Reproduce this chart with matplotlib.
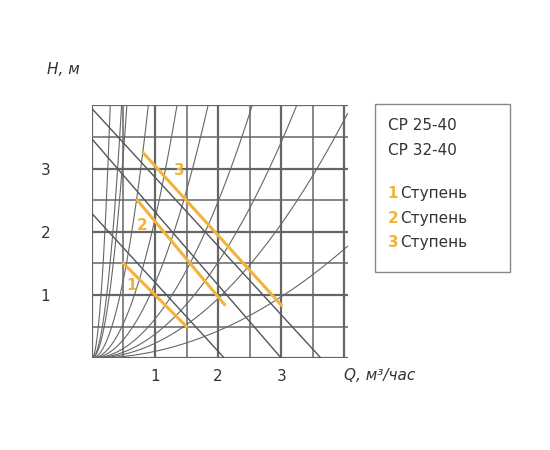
import numpy as np
import matplotlib
matplotlib.use("Agg")
import matplotlib.pyplot as plt

ticks = [1, 2, 3]
tick_labels = ["1", "2", "3"]
# system curves H = k*Q^2
k_values = [47, 18, 13, 5.0, 2.2, 1.18, 0.62, 0.38, 0.236, 0.108]
# straight pump lines (other model): (H at Q=0, Q at H=0)
black_lines = [(2.29, 2.1), (3.47, 3.0), (3.95, 3.63)]
# orange step lines: (Q1, H1, Q2, H2)
steps = ["1", "2", "3"]
step_lines = [(0.5, 1.5, 1.5, 0.5), (0.72, 2.5, 2.1, 0.85), (0.82, 3.24, 3.0, 0.84)]
step_label_pos = [(0.63, 1.15), (0.8, 2.1), (1.38, 2.97)]
legend_models = ["CP 25-40", "CP 32-40"]
orange = "#f0b43c"

fig = plt.figure(figsize=(5.5, 4.5), dpi=100)
ax = fig.add_axes([0.167, 0.204, 0.465, 0.562])
ax.set_xlim(0, 4.05)
ax.set_ylim(0, 4.0)
for v in np.arange(0, 4.01, 0.5):
    lw = 1.6 if v == int(v) else 1.1
    ax.axvline(v, color="#666666", lw=lw, zorder=1)
    ax.axhline(v, color="#666666", lw=lw, zorder=1)
q = np.linspace(0, 4.05, 400)
for k in k_values:
    ax.plot(q, k * q**2, color="#666666", lw=0.8, zorder=2)
for h0, q0 in black_lines:
    ax.plot([0, q0], [h0, 0], color="#555555", lw=1.0, zorder=2)
for (q1, h1, q2, h2), s, (lx, ly) in zip(step_lines, steps, step_label_pos):
    ax.plot([q1, q2], [h1, h2], color=orange, lw=2.2, zorder=3)
    ax.text(lx, ly, s, color=orange, fontsize=11, fontweight="bold",
            ha="center", va="center", zorder=4)
for sp in ax.spines.values():
    sp.set_visible(False)
ax.set_xticks(ticks)
ax.set_xticklabels(tick_labels)
ax.set_yticks(ticks)
ax.set_yticklabels(tick_labels)
ax.tick_params(length=0, labelsize=11, colors="#333333")
ax.tick_params(axis="y", pad=30)
ax.tick_params(axis="x", pad=8)
fig.text(0.085, 0.835, "H, м", fontsize=11, style="italic", color="#333333")
fig.text(0.625, 0.155, "Q, м³/час", fontsize=11, style="italic", color="#333333")

# legend box
fig.patches.append(plt.Rectangle((0.682, 0.395), 0.245, 0.375, transform=fig.transFigure,
                                 fill=False, edgecolor="#888888", lw=1.0))
fig.text(0.705, 0.71, legend_models[0], fontsize=11, color="#333333")
fig.text(0.705, 0.655, legend_models[1], fontsize=11, color="#333333")
for i, s in enumerate(steps):
    y = 0.56 - i * 0.055
    fig.text(0.705, y, s, fontsize=11, color=orange, fontweight="bold")
    fig.text(0.728, y, "Ступень", fontsize=11, color="#333333")
fig.savefig("out.png", dpi=100)
